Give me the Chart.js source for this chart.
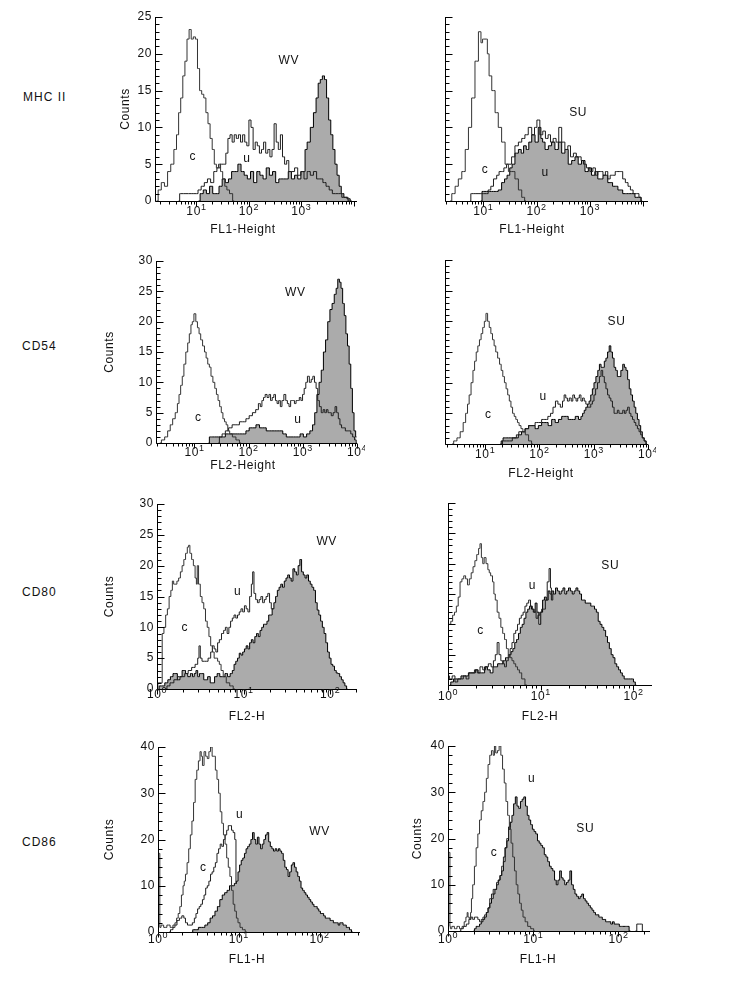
<!DOCTYPE html>
<html>
<head>
<meta charset="utf-8">
<script src="https://cdn.jsdelivr.net/npm/chart.js"></script>
<style>
    body { margin: 0; background: #fff; width: 736px; height: 981px; position: relative; overflow: hidden; font-family: "Liberation Sans", Arial, sans-serif; }
    canvas { position: absolute; }
    .row { position: absolute; font-size: 12px; line-height: 14px; letter-spacing: 1px; color: #111; }
</style>
</head>
<body>
<div class="row" style="left:23px;top:90px">MHC II</div>
<div class="row" style="left:22px;top:339px">CD54</div>
<div class="row" style="left:22px;top:585px">CD80</div>
<div class="row" style="left:22px;top:835px">CD86</div>
<script>
// points are [log10 channel, counts]; c = control, u = untreated, t = treated (shaded)

// MHC II, WV
var mhcWvC = [[0.24,0],[0.3,1.5],[0.36,2.5],[0.42,2],[0.48,4],[0.54,5],[0.6,7],[0.64,9],[0.68,12],[0.72,14],[0.76,17],[0.8,19],[0.84,22],[0.88,23.3],[0.92,22],[0.96,22.3],[1.0,22],[1.04,18],[1.08,15],[1.12,14.5],[1.16,14],[1.2,12],[1.24,10.5],[1.28,8.5],[1.32,7],[1.36,5],[1.4,4.5],[1.44,5],[1.48,4],[1.52,3],[1.56,2],[1.6,1.5],[1.66,1],[1.72,0]];
var mhcWvU = [[0.66,0],[0.7,1],[0.8,1],[0.9,1],[1.0,1],[1.06,1.5],[1.12,2],[1.18,2.5],[1.24,3],[1.3,2.5],[1.36,4],[1.42,4.5],[1.48,5],[1.54,5],[1.58,6.5],[1.62,8.5],[1.66,9],[1.7,8],[1.74,9],[1.78,8.5],[1.82,9],[1.86,8],[1.9,9],[1.94,8],[1.98,7.5],[2.02,11],[2.06,10],[2.1,7],[2.14,8],[2.18,7.5],[2.22,6.5],[2.26,7],[2.3,8],[2.34,6.5],[2.38,7],[2.42,6],[2.46,7],[2.5,10.5],[2.54,8],[2.58,7],[2.62,9],[2.66,6],[2.7,5],[2.74,5.5],[2.78,4],[2.84,4],[2.9,4.5],[2.96,3.5],[3.02,4],[3.08,3],[3.14,4],[3.2,3.5],[3.26,4],[3.32,3],[3.38,3],[3.44,2.5],[3.5,2],[3.56,1.5],[3.62,1],[3.68,1],[3.74,1],[3.8,0.5],[3.86,0.5],[3.92,0]];
var mhcWvT = [[1.04,0],[1.1,1],[1.16,1.5],[1.22,1],[1.28,2],[1.34,1],[1.4,1],[1.46,2],[1.52,3],[1.58,2.5],[1.64,3],[1.7,4],[1.76,4],[1.82,5],[1.88,4],[1.94,3.5],[2.0,3],[2.06,4],[2.12,2.5],[2.18,4],[2.24,3.5],[2.3,3],[2.36,4.5],[2.42,3.5],[2.48,4],[2.54,2.5],[2.6,3],[2.66,3],[2.72,3],[2.78,4],[2.84,3],[2.9,3.5],[2.96,3],[3.02,4],[3.06,4],[3.08,7],[3.14,8],[3.2,10],[3.26,12],[3.3,14],[3.34,16],[3.38,16.5],[3.42,17],[3.46,16.5],[3.5,14],[3.54,11],[3.58,9],[3.62,7],[3.66,5],[3.7,3.5],[3.74,2],[3.78,1],[3.84,0.5],[3.9,0.3],[3.96,0]];

// MHC II, SU
var mhcSuC = [[0.375,0],[0.44,1],[0.5,2],[0.56,3],[0.63,4],[0.69,7],[0.75,10],[0.81,14],[0.875,19],[0.94,23],[0.97,21.5],[1.0,22],[1.06,22],[1.09,20],[1.125,17],[1.19,15],[1.25,12],[1.31,10],[1.375,8],[1.44,5],[1.5,4],[1.56,4],[1.625,3],[1.69,1.5],[1.75,0.5],[1.8,0]];
var mhcSuU = [[0.75,0],[0.78,1],[0.86,1],[0.94,1],[1.0,1],[1.06,1],[1.12,1.5],[1.16,2],[1.22,3],[1.28,3.5],[1.31,4],[1.36,4],[1.41,4.5],[1.46,5],[1.5,5],[1.56,6],[1.625,7.5],[1.69,8],[1.75,8.5],[1.81,9],[1.875,10],[1.94,9],[1.98,10],[2.03,11],[2.09,9],[2.14,9.5],[2.19,8.5],[2.24,9],[2.28,8],[2.34,8.5],[2.39,8],[2.44,10],[2.5,8],[2.56,7],[2.61,7.5],[2.66,6],[2.72,6.5],[2.77,6],[2.81,6],[2.86,5.5],[2.9,5],[2.97,4.5],[3.03,4],[3.08,4.5],[3.125,3.5],[3.17,4],[3.22,4],[3.27,3.5],[3.31,4],[3.36,3],[3.4,3.5],[3.45,3.5],[3.5,4],[3.55,4],[3.59,4],[3.64,3],[3.69,2.5],[3.74,2],[3.78,1.5],[3.84,1],[3.9,1],[3.94,0.5],[3.98,0]];
var mhcSuT = [[0.95,0],[1.0,1.3],[1.06,1.3],[1.12,1.3],[1.19,1.3],[1.25,1.3],[1.31,1.5],[1.375,2.5],[1.42,3],[1.47,3.5],[1.52,4.5],[1.56,5],[1.625,6.5],[1.69,7],[1.73,6.5],[1.78,7.5],[1.83,7],[1.875,8],[1.94,9],[2.0,8],[2.06,10],[2.1,8.5],[2.125,8],[2.19,7],[2.25,7.5],[2.31,8],[2.375,7],[2.44,8],[2.5,6.5],[2.56,7],[2.625,5],[2.69,5.5],[2.75,6],[2.81,5],[2.875,5.5],[2.94,4],[3.0,4.5],[3.06,3.5],[3.125,4],[3.17,3],[3.22,3],[3.27,3.5],[3.31,3.5],[3.36,2.5],[3.4,2.5],[3.45,2],[3.5,2],[3.55,1.5],[3.59,1.5],[3.64,1],[3.69,1],[3.75,1],[3.81,1],[3.88,0.5],[3.94,0.5],[3.98,0]];

// CD54, WV
var cd54WvC = [[0.36,0],[0.42,0.5],[0.48,1],[0.53,2],[0.575,3],[0.62,4],[0.67,5],[0.7,6.5],[0.73,8],[0.76,9.5],[0.79,11],[0.82,13],[0.86,15],[0.89,16.5],[0.92,18],[0.95,19.5],[0.97,20],[1.01,21.3],[1.04,20],[1.07,19],[1.1,18],[1.13,17],[1.17,16],[1.2,15],[1.23,14],[1.26,13],[1.29,12.5],[1.32,11],[1.36,10],[1.39,9],[1.42,8],[1.45,7],[1.48,6],[1.51,5],[1.54,4],[1.57,3.5],[1.6,3],[1.63,2],[1.67,1.5],[1.73,1],[1.8,0.5],[1.86,0]];
var cd54WvU = [[1.44,0],[1.48,1],[1.54,1.5],[1.6,2],[1.66,2.5],[1.73,3],[1.8,3],[1.86,3.5],[1.92,3.5],[1.98,4],[2.04,4.5],[2.1,5],[2.16,5.5],[2.2,6.5],[2.23,6],[2.26,7],[2.29,7.5],[2.32,8],[2.36,7.5],[2.39,8],[2.42,7],[2.45,7.5],[2.48,8],[2.51,7],[2.54,6.5],[2.57,7],[2.6,6],[2.63,7],[2.67,8],[2.7,7],[2.73,6.5],[2.76,6],[2.79,7],[2.83,7],[2.86,6.5],[2.89,7],[2.92,7],[2.95,7.5],[2.98,7],[3.01,8],[3.04,9],[3.07,10],[3.1,11],[3.14,10],[3.17,10.5],[3.2,11],[3.23,10],[3.26,9],[3.29,7],[3.32,6],[3.36,5],[3.39,5.5],[3.42,5],[3.45,5.5],[3.48,5],[3.51,5],[3.54,4.5],[3.58,5],[3.61,6],[3.64,5],[3.67,4],[3.7,3],[3.73,2.5],[3.77,2.5],[3.8,2],[3.84,2],[3.87,2],[3.9,1.5],[3.94,1],[3.97,0.5],[4.0,0]];
var cd54WvT = [[1.26,0],[1.29,1],[1.34,1],[1.4,1],[1.48,1],[1.54,1],[1.6,1.5],[1.66,1.5],[1.73,1.5],[1.8,1.5],[1.86,1.5],[1.92,1.5],[1.98,2],[2.04,2.5],[2.1,2.5],[2.17,3],[2.23,2.5],[2.29,2.5],[2.36,2],[2.42,2],[2.48,2],[2.54,2],[2.6,2],[2.66,1.5],[2.73,1],[2.8,1],[2.86,1],[2.92,1],[2.98,1.5],[3.04,1],[3.1,1.5],[3.16,2],[3.2,3],[3.24,5],[3.28,8],[3.32,10],[3.36,12],[3.4,15],[3.44,17],[3.48,20],[3.52,22],[3.56,23],[3.6,24.5],[3.63,25.5],[3.66,27],[3.69,26.5],[3.72,25.5],[3.75,23],[3.78,21],[3.81,18],[3.84,16],[3.87,13],[3.9,9],[3.93,5],[3.96,2],[3.99,1]];

// CD54, SU
var cd54SuC = [[0.39,0],[0.45,0.5],[0.51,1],[0.57,2],[0.62,3.5],[0.66,5],[0.69,6.5],[0.72,8],[0.76,10],[0.79,12],[0.82,13.5],[0.85,15],[0.88,16],[0.91,17],[0.94,18],[0.97,19],[1.0,20],[1.03,21.3],[1.06,20],[1.09,19],[1.12,18],[1.15,17],[1.18,16],[1.21,15],[1.25,14],[1.28,13],[1.31,12],[1.34,11],[1.37,10],[1.4,9],[1.43,8],[1.46,7],[1.49,6],[1.52,5],[1.55,4.5],[1.58,4],[1.61,3.5],[1.64,3],[1.68,2.5],[1.71,2],[1.77,1.5],[1.83,0.5],[1.88,0]];
var cd54SuU = [[1.3,0],[1.34,0.5],[1.45,0.5],[1.55,1],[1.6,1.5],[1.64,2],[1.7,2],[1.77,2.5],[1.83,3],[1.89,3],[1.95,3.5],[2.01,3.5],[2.07,4],[2.13,4],[2.18,4.5],[2.23,5],[2.27,6],[2.32,7],[2.36,6.5],[2.41,6],[2.44,7],[2.47,8],[2.5,7.5],[2.53,7],[2.57,7.5],[2.6,7],[2.63,8],[2.66,7.5],[2.69,7],[2.72,7.5],[2.75,8],[2.78,7],[2.81,7.5],[2.84,7],[2.87,6.5],[2.9,6],[2.93,6],[2.96,6.5],[2.99,7],[3.02,8],[3.05,9],[3.09,10],[3.12,11],[3.15,12],[3.18,11],[3.21,10],[3.24,9],[3.27,8],[3.3,7.5],[3.33,7],[3.36,6],[3.39,5],[3.42,5],[3.45,5.5],[3.48,5],[3.52,5],[3.55,5.5],[3.58,5],[3.61,5.5],[3.64,6],[3.67,5],[3.7,4.5],[3.73,4],[3.76,3.5],[3.79,3],[3.82,2.5],[3.85,2],[3.88,1.5],[3.91,1],[3.95,0.5],[3.98,0]];
var cd54SuT = [[1.28,0],[1.31,0.5],[1.35,1],[1.4,1],[1.46,1],[1.52,1],[1.58,1],[1.64,1.5],[1.7,2],[1.77,2.5],[1.83,3],[1.89,3],[1.95,2.5],[2.01,3],[2.07,3.5],[2.13,3.5],[2.19,3],[2.26,4],[2.32,3.5],[2.38,4],[2.44,4.5],[2.5,4.5],[2.56,4],[2.63,4],[2.69,4.5],[2.75,4],[2.78,4.5],[2.81,5],[2.84,5.5],[2.87,6],[2.9,6.5],[2.93,7],[2.96,8],[2.99,9],[3.02,10],[3.06,11],[3.09,12],[3.12,13],[3.15,12.5],[3.18,12.5],[3.21,13.5],[3.24,14],[3.27,15],[3.3,16],[3.33,15],[3.36,14],[3.39,12.5],[3.42,12],[3.45,11],[3.48,11],[3.52,12],[3.55,13],[3.58,12.5],[3.61,12],[3.64,10.5],[3.67,9],[3.7,8],[3.73,7],[3.76,6],[3.79,5],[3.82,4],[3.85,3],[3.88,2],[3.91,1],[3.95,0.5],[3.98,0]];

// CD80, WV
var cd80WvC = [[0,0],[0.02,1],[0.05,1],[0.07,9],[0.09,10],[0.11,12],[0.13,13],[0.15,15],[0.17,16],[0.185,17.5],[0.2,17],[0.22,17],[0.24,17.5],[0.26,18],[0.28,19],[0.3,20],[0.32,21],[0.34,22],[0.36,23],[0.37,23.3],[0.39,22],[0.41,21],[0.43,20],[0.45,18],[0.46,17],[0.47,20],[0.49,17],[0.51,15],[0.53,14],[0.55,13],[0.57,11],[0.59,10],[0.61,8.5],[0.63,7],[0.65,6],[0.67,5],[0.69,5],[0.71,4.5],[0.73,4],[0.75,3],[0.78,2],[0.82,1],[0.86,0.5],[0.9,0]];
var cd80WvU = [[0.1,0],[0.13,0.5],[0.17,1],[0.22,1.5],[0.26,2],[0.3,2],[0.34,2.5],[0.38,3],[0.42,3.5],[0.46,4],[0.48,5],[0.49,7],[0.51,5],[0.53,4.5],[0.57,4.5],[0.61,5],[0.63,6],[0.65,7],[0.67,6.5],[0.69,6],[0.71,7.5],[0.73,8],[0.76,9],[0.78,9.5],[0.8,10],[0.82,9],[0.84,10],[0.86,11],[0.88,11.5],[0.9,12],[0.92,11.5],[0.94,12],[0.96,12.5],[0.98,13],[1.0,12.5],[1.02,13.5],[1.04,13],[1.06,12.5],[1.08,15],[1.1,17],[1.11,19],[1.13,15.5],[1.15,14.5],[1.17,14],[1.19,14.5],[1.21,15],[1.23,14],[1.25,14.5],[1.27,15],[1.29,15.5],[1.31,14],[1.33,13],[1.34,13]];
var cd80WvT = [[0.02,0],[0.03,0.5],[0.07,0.5],[0.11,1],[0.14,1.5],[0.17,2],[0.2,2.5],[0.22,2.5],[0.25,1.5],[0.28,2],[0.3,3],[0.32,3],[0.34,2.5],[0.37,2],[0.4,2.5],[0.42,2],[0.44,2.5],[0.46,3],[0.48,2],[0.5,2.5],[0.53,2.5],[0.55,1.5],[0.57,1.5],[0.6,2],[0.63,1],[0.65,1],[0.68,2],[0.71,2.5],[0.74,2],[0.77,2],[0.8,2.5],[0.83,2],[0.86,2.5],[0.88,3],[0.9,4],[0.92,4.5],[0.94,5],[0.96,5.8],[0.98,5.5],[1.0,6],[1.02,6.5],[1.04,7],[1.06,6.5],[1.08,7.5],[1.1,8],[1.12,7.5],[1.14,8.5],[1.16,9],[1.18,8.5],[1.2,9.5],[1.22,10],[1.24,10.5],[1.26,10.5],[1.28,11],[1.3,12],[1.32,12],[1.34,13],[1.36,14],[1.38,15],[1.4,16],[1.42,16.5],[1.44,17],[1.46,16.5],[1.48,17.5],[1.5,18],[1.52,18.5],[1.54,18],[1.56,17.5],[1.58,19.5],[1.6,19],[1.62,18.5],[1.64,20],[1.66,21],[1.68,19],[1.7,18.5],[1.72,18],[1.74,18.5],[1.76,17.5],[1.78,17],[1.8,16.5],[1.82,16],[1.84,14],[1.86,12.8],[1.88,12],[1.9,11],[1.92,10],[1.94,9],[1.96,7.5],[1.98,6],[2.0,5],[2.02,4],[2.04,3.7],[2.06,3],[2.08,2.6],[2.1,2.5],[2.12,2],[2.14,1.5],[2.16,1],[2.18,0.5],[2.2,0]];

// CD80, SU
var cd80SuC = [[0,0],[0,10],[0.02,10],[0.04,10.5],[0.06,11.5],[0.08,12],[0.1,13],[0.12,14.5],[0.14,17],[0.16,17.5],[0.18,18],[0.2,17.5],[0.22,16.5],[0.24,17.5],[0.26,18.5],[0.28,19.5],[0.3,20.5],[0.32,21.5],[0.34,22.5],[0.35,23.3],[0.37,21],[0.38,20],[0.4,21],[0.42,20],[0.44,19],[0.45,18.5],[0.47,18],[0.49,17],[0.5,15],[0.52,14],[0.54,12],[0.56,11],[0.58,9.5],[0.6,8.5],[0.62,7.5],[0.64,6],[0.66,5],[0.68,4.5],[0.7,4],[0.72,3.5],[0.74,3],[0.76,2.5],[0.78,2],[0.81,1],[0.85,0]];
var cd80SuU = [[0,1.5],[0.03,1],[0.06,1.5],[0.09,0.5],[0.12,1],[0.15,1],[0.18,1.5],[0.21,1],[0.24,2],[0.27,2],[0.3,2.5],[0.33,2],[0.36,3],[0.39,2.5],[0.42,3],[0.45,3.5],[0.48,3],[0.5,4],[0.52,5],[0.54,7],[0.56,5],[0.58,4],[0.6,3.5],[0.62,3],[0.64,4],[0.66,5],[0.68,6],[0.7,7],[0.72,8.5],[0.74,9],[0.76,10],[0.78,11],[0.8,11.5],[0.82,12],[0.84,13],[0.86,13.5],[0.88,14],[0.9,13],[0.92,12.5],[0.94,12],[0.96,11],[0.98,11.5],[1.0,12],[1.02,12.5],[1.04,12.5],[1.06,14],[1.08,17],[1.1,19.2],[1.11,16],[1.12,14],[1.14,15]];
var cd80SuT = [[0.02,0],[0.04,0.5],[0.08,1],[0.12,1],[0.16,1.5],[0.2,1.5],[0.24,2],[0.28,2],[0.31,2.5],[0.34,2],[0.38,2],[0.41,3],[0.44,2.5],[0.47,2],[0.5,3],[0.52,3],[0.55,3.5],[0.58,3.5],[0.61,4],[0.63,4.5],[0.65,4.5],[0.67,5],[0.69,5.5],[0.71,6],[0.73,7],[0.75,7.5],[0.77,8.5],[0.79,9.5],[0.81,10],[0.83,11],[0.85,12],[0.87,12.5],[0.89,13],[0.91,12.5],[0.93,12],[0.95,13.5],[0.97,12],[0.99,10],[1.01,12],[1.03,14],[1.05,14.5],[1.07,14],[1.09,15.5],[1.11,15],[1.13,15.5],[1.15,15],[1.17,16],[1.19,15.5],[1.21,15],[1.23,15.5],[1.25,16],[1.27,15],[1.29,15.5],[1.31,16],[1.33,15.5],[1.35,15],[1.37,15.5],[1.39,16],[1.41,15.5],[1.43,15],[1.45,14],[1.47,14],[1.49,13.5],[1.51,13.5],[1.53,13.5],[1.55,13],[1.57,13],[1.59,12.5],[1.61,12],[1.63,10.5],[1.65,10],[1.67,9.5],[1.69,9],[1.71,8],[1.73,7],[1.75,6],[1.77,5],[1.79,4.5],[1.81,3.5],[1.83,3],[1.85,2.5],[1.87,2],[1.89,1.5],[1.91,1],[1.95,1],[1.99,1],[2.01,0.5],[2.03,0]];

// CD86, WV
var cd86WvC = [[0,0],[0,17],[0.02,17],[0.025,1],[0.05,1.5],[0.09,1],[0.13,1.5],[0.17,1],[0.2,1.5],[0.22,2],[0.24,3],[0.26,4],[0.28,5.5],[0.3,8],[0.32,10],[0.33,11],[0.35,12.5],[0.37,15],[0.39,18],[0.41,21],[0.43,24],[0.45,28],[0.47,33],[0.49,35],[0.51,37],[0.53,39],[0.54,38],[0.56,36],[0.58,39],[0.6,38],[0.62,37.5],[0.64,39],[0.66,40],[0.68,38],[0.7,38],[0.72,35],[0.74,33],[0.76,30],[0.78,26],[0.8,23.5],[0.82,21],[0.84,19],[0.86,16],[0.88,14],[0.9,12],[0.92,9],[0.94,6],[0.96,4.5],[0.98,3],[1.0,2],[1.03,1],[1.06,0.5],[1.1,0]];
var cd86WvU = [[0.14,0],[0.17,0.5],[0.2,1],[0.22,1.5],[0.25,2.5],[0.28,3],[0.31,3.5],[0.33,3],[0.35,2],[0.38,1.5],[0.41,1.5],[0.44,2],[0.46,3],[0.48,4],[0.5,5],[0.52,5.5],[0.54,6],[0.56,7],[0.58,8],[0.6,9.5],[0.62,10],[0.64,11],[0.66,12.5],[0.68,13],[0.7,14],[0.72,15],[0.74,17],[0.76,18],[0.78,19],[0.8,18.5],[0.82,20],[0.84,21],[0.86,22],[0.88,23],[0.9,23],[0.92,22],[0.94,21.5],[0.96,20],[0.97,10.5]];
var cd86WvT = [[0.42,0],[0.44,0.5],[0.48,0.5],[0.52,1],[0.56,1],[0.6,1.5],[0.63,2],[0.66,3],[0.69,3.5],[0.72,4.5],[0.75,5.5],[0.78,7],[0.81,8],[0.84,8.5],[0.87,9],[0.9,10],[0.93,10],[0.96,10.5],[0.98,11],[1.0,13],[1.02,14.5],[1.04,15.5],[1.06,16],[1.08,17],[1.1,18],[1.12,18.5],[1.14,19],[1.16,20],[1.18,21.5],[1.2,20],[1.22,19],[1.24,20.5],[1.26,19],[1.28,18],[1.3,19],[1.32,20],[1.34,21],[1.36,21.5],[1.38,19.5],[1.4,18.5],[1.42,18],[1.44,17.5],[1.46,18],[1.48,17.5],[1.5,18],[1.52,17.5],[1.54,17],[1.56,15.5],[1.58,14],[1.6,13.5],[1.62,12],[1.64,13],[1.66,14.5],[1.68,15],[1.7,14],[1.72,13],[1.74,12],[1.76,11],[1.78,9.5],[1.8,9],[1.82,8.5],[1.84,8],[1.86,7.5],[1.88,7],[1.9,6.5],[1.92,6],[1.94,5.5],[1.96,5.5],[1.98,5],[2.0,4.5],[2.02,4],[2.04,4],[2.06,3.5],[2.08,3],[2.1,3],[2.12,3],[2.14,2.5],[2.16,2.5],[2.18,2],[2.2,2],[2.22,2],[2.24,1.5],[2.26,2],[2.28,2],[2.3,1.5],[2.32,1.5],[2.34,1],[2.36,1],[2.38,0.5],[2.41,0]];

// CD86, SU
var cd86SuC = [[0,0],[0,17],[0.02,17],[0.025,1],[0.03,0.5],[0.06,1],[0.09,0.5],[0.12,1],[0.15,0.5],[0.18,1],[0.2,2],[0.22,3],[0.23,4],[0.24,3],[0.26,2.5],[0.27,4],[0.28,7],[0.3,10],[0.32,14],[0.34,18],[0.36,21],[0.38,24],[0.4,26],[0.42,28],[0.44,30],[0.46,33],[0.48,36],[0.5,38],[0.52,39],[0.54,38],[0.55,40],[0.57,38.5],[0.59,39],[0.61,40],[0.63,38],[0.65,35],[0.67,32],[0.69,28],[0.71,25],[0.73,22],[0.75,19],[0.77,16],[0.79,13],[0.81,10],[0.83,8],[0.85,6],[0.87,4.5],[0.89,3],[0.92,2],[0.95,1],[0.99,0.5],[1.02,0]];
var cd86SuU = [[0.14,0],[0.16,0.5],[0.2,1],[0.23,1.5],[0.26,2.5],[0.28,3],[0.3,2.5],[0.32,3],[0.34,3],[0.36,2.5],[0.38,2],[0.4,2.5],[0.42,3],[0.44,3.5],[0.46,4],[0.48,5],[0.5,7],[0.52,8],[0.54,9],[0.56,9],[0.58,10.5],[0.6,11],[0.62,12],[0.64,14],[0.66,16],[0.68,18],[0.7,20],[0.72,22.5],[0.74,23.5],[1.5,null],[2.2,0],[2.23,1.5],[2.27,1.5],[2.29,0]];
var cd86SuT = [[0.3,0],[0.32,0.5],[0.34,1],[0.36,1],[0.38,1.5],[0.4,2],[0.42,2.5],[0.44,3],[0.46,4],[0.48,5],[0.5,6],[0.52,7],[0.54,8],[0.56,9],[0.58,10],[0.6,11],[0.62,12],[0.64,13],[0.66,15],[0.68,18],[0.7,19.5],[0.72,22],[0.74,23.5],[0.76,25],[0.78,27.5],[0.8,29],[0.82,27],[0.84,26.5],[0.86,28],[0.88,28.5],[0.9,29],[0.92,27],[0.94,25],[0.96,24],[0.98,23],[1.0,22],[1.02,21.5],[1.04,21],[1.06,19.5],[1.08,19],[1.1,18.5],[1.12,18],[1.14,16.5],[1.16,16],[1.18,15],[1.2,14],[1.22,13.5],[1.24,13],[1.26,11],[1.28,10],[1.3,11],[1.32,13],[1.34,11.5],[1.36,11],[1.38,10],[1.4,10.5],[1.42,11],[1.44,13],[1.46,10],[1.48,9],[1.5,8],[1.52,7.5],[1.54,7],[1.56,7.5],[1.58,8],[1.6,7],[1.62,6.5],[1.64,6],[1.66,5.5],[1.68,5],[1.7,4.5],[1.72,4],[1.74,3.5],[1.76,3.5],[1.78,3],[1.8,3],[1.82,2.5],[1.84,2.5],[1.86,2],[1.88,2],[1.9,2],[1.92,1.5],[1.94,2],[1.96,1.5],[1.98,1.5],[2.0,1.5],[2.02,1],[2.05,1],[2.08,1],[2.11,1],[2.14,0]];

// layout of the eight panels (page pixels: left, top, right, bottom of the plot area)
var panels = [
    {sets: [mhcWvT, mhcWvU, mhcWvC], box: [155, 17, 357, 201], xMin: 0.21, xMax: 4.06, lastDecade: 3, yMax: 25, yMinor: 1, yMajor: 5, yLabels: true, countsX: 126, xTitle: 'FL1-Height', titleAt: [243, 230], tickOff: 11, notes: [['WV', 2.76, 19], ['c', 0.93, 6], ['u', 1.96, 5.8]]},
    {sets: [mhcSuT, mhcSuU, mhcSuC], box: [445, 17, 648, 201], xMin: 0.28, xMax: 4.09, lastDecade: 3, yMax: 25, yMinor: 1, yMajor: 5, yLabels: false, countsX: 0, xTitle: 'FL1-Height', titleAt: [532, 230], tickOff: 11, notes: [['SU', 2.78, 12], ['c', 1.03, 4.2], ['u', 2.16, 3.8]]},
    {sets: [cd54WvT, cd54WvU, cd54WvC], box: [156, 261, 357, 443], xMin: 0.29, xMax: 4.0, lastDecade: 4, yMax: 30, yMinor: 1, yMajor: 5, yLabels: true, countsX: 110, xTitle: 'FL2-Height', titleAt: [243, 466], tickOff: 10, notes: [['WV', 2.86, 24.8], ['c', 1.07, 4.1], ['u', 2.91, 3.8]]},
    {sets: [cd54SuT, cd54SuU, cd54SuC], box: [445, 260, 648, 444], xMin: 0.26, xMax: 4.0, lastDecade: 4, yMax: 30, yMinor: 1, yMajor: 5, yLabels: false, countsX: 0, xTitle: 'FL2-Height', titleAt: [541, 474], tickOff: 11, notes: [['SU', 3.42, 20], ['c', 1.06, 4.7], ['u', 2.07, 7.7]]},
    {sets: [cd80WvT, cd80WvU, cd80WvC], box: [157, 504, 357, 689], xMin: 0, xMax: 2.31, lastDecade: 2, yMax: 30, yMinor: 1, yMajor: 5, yLabels: true, countsX: 110, xTitle: 'FL2-H', titleAt: [247, 717], tickOff: 6, notes: [['WV', 1.96, 23.9], ['c', 0.32, 10], ['u', 0.93, 15.8]]},
    {sets: [cd80SuT, cd80SuU, cd80SuC], box: [448, 503, 652, 685], xMin: 0, xMax: 2.2, lastDecade: 2, yMax: 30, yMinor: 1, yMajor: 5, yLabels: false, countsX: 0, xTitle: 'FL2-H', titleAt: [540, 717], tickOff: 12, notes: [['SU', 1.75, 19.7], ['c', 0.35, 9], ['u', 0.91, 16.3]]},
    {sets: [cd86WvT, cd86WvU, cd86WvC], box: [158, 747, 360, 932], xMin: 0, xMax: 2.5, lastDecade: 2, yMax: 40, yMinor: 2, yMajor: 10, yLabels: true, countsX: 110, xTitle: 'FL1-H', titleAt: [247, 960], tickOff: 8, notes: [['WV', 2.0, 21.6], ['c', 0.56, 13.8], ['u', 1.01, 25.3]]},
    {sets: [cd86SuT, cd86SuU, cd86SuC], box: [448, 746, 650, 931], xMin: 0, xMax: 2.37, lastDecade: 2, yMax: 40, yMinor: 2, yMajor: 10, yLabels: true, countsX: 418, xTitle: 'FL1-H', titleAt: [538, 960], tickOff: 9, notes: [['SU', 1.61, 22.2], ['c', 0.54, 16.9], ['u', 0.98, 33]]}
];

var AXIS_W = 60, AXIS_H = 40, PAD = 8;
var FONT = '"Liberation Sans", Arial, sans-serif';

function toPoints(arr) {
    return arr.map(function (d) {
        return {x: Math.pow(10, d[0]), y: d[1]};
    });
}

function decor(p, left, top) {
    return {
        id: 'decor',
        afterDraw: function (chart) {
            var ctx = chart.ctx, a = chart.chartArea, xs = chart.scales.x, ys = chart.scales.y;
            var x0 = Math.round(a.left) + 0.5, y0 = Math.round(a.bottom) + 0.5;
            var v, x, y, d, k;
            ctx.save();
            ctx.strokeStyle = '#000';
            ctx.lineWidth = 1;
            ctx.beginPath();
            ctx.moveTo(x0, Math.round(a.top));
            ctx.lineTo(x0, y0);
            ctx.lineTo(Math.round(a.right), y0);
            // y ticks point into the plot
            for (v = 0; v <= p.yMax; v += p.yMinor) {
                y = Math.round(ys.getPixelForValue(v)) + 0.5;
                ctx.moveTo(x0, y);
                ctx.lineTo(x0 + (v % p.yMajor === 0 ? 7 : 4), y);
            }
            // log ticks under the axis
            for (d = Math.floor(p.xMin); d <= Math.ceil(p.xMax); d++) {
                for (k = 1; k < 10; k++) {
                    v = k * Math.pow(10, d);
                    if (v < xs.min * 0.999 || v > xs.max * 1.001) continue;
                    x = Math.round(xs.getPixelForValue(v)) + 0.5;
                    ctx.moveTo(x, y0);
                    ctx.lineTo(x, y0 + (k === 1 ? 5 : 3));
                }
            }
            ctx.stroke();

            ctx.fillStyle = '#111';
            ctx.letterSpacing = '0.6px';
            ctx.textBaseline = 'middle';
            ctx.font = '12px ' + FONT;
            if (p.yLabels) {
                ctx.textAlign = 'right';
                for (v = 0; v <= p.yMax; v += p.yMajor) {
                    ctx.fillText(String(v), a.left - 3, ys.getPixelForValue(v));
                }
            }
            // decade labels 10^n
            ctx.textAlign = 'left';
            for (d = Math.ceil(p.xMin - 0.001); d <= p.lastDecade; d++) {
                x = xs.getPixelForValue(Math.pow(10, d));
                ctx.font = '12px ' + FONT;
                var w1 = ctx.measureText('10').width;
                ctx.font = '9px ' + FONT;
                var w2 = ctx.measureText(String(d)).width;
                var sx = x - (w1 + w2) / 2;
                ctx.font = '12px ' + FONT;
                ctx.fillText('10', sx, a.bottom + p.tickOff);
                ctx.font = '9px ' + FONT;
                ctx.fillText(String(d), sx + w1, a.bottom + p.tickOff - 4);
            }
            ctx.font = '12px ' + FONT;
            ctx.textAlign = 'center';
            ctx.fillText(p.xTitle, p.titleAt[0] - left, p.titleAt[1] - top);
            if (p.countsX) {
                ctx.save();
                ctx.translate(p.countsX - left, (a.top + a.bottom) / 2);
                ctx.rotate(-Math.PI / 2);
                ctx.fillText('Counts', 0, 0);
                ctx.restore();
            }
            p.notes.forEach(function (n) {
                ctx.fillText(n[0], xs.getPixelForValue(Math.pow(10, n[1])), ys.getPixelForValue(n[2]));
            });
            ctx.restore();
        }
    };
}

panels.forEach(function (p) {
    var left = p.box[0] - AXIS_W, top = p.box[1] - PAD;
    var canvas = document.createElement('canvas');
    canvas.width = p.box[2] - p.box[0] + AXIS_W + PAD;
    canvas.height = p.box[3] - p.box[1] + PAD + AXIS_H;
    canvas.style.left = left + 'px';
    canvas.style.top = top + 'px';
    document.body.appendChild(canvas);

    new Chart(canvas, {
        type: 'line',
        data: {
            datasets: [
                {data: toPoints(p.sets[0]), stepped: 'middle', fill: 'origin', backgroundColor: '#ababab', borderColor: '#000', borderWidth: 1, order: 3},
                {data: toPoints(p.sets[1]), stepped: 'middle', fill: false, borderColor: '#1e1e1e', borderWidth: 1, order: 2},
                {data: toPoints(p.sets[2]), stepped: 'middle', fill: false, borderColor: '#333', borderWidth: 1, order: 1}
            ]
        },
        options: {
            responsive: false,
            animation: false,
            events: [],
            layout: {padding: {left: 0, top: PAD, right: PAD, bottom: 0}},
            elements: {point: {radius: 0}},
            plugins: {legend: {display: false}, tooltip: {enabled: false}},
            scales: {
                x: {
                    type: 'logarithmic',
                    min: Math.pow(10, p.xMin),
                    max: Math.pow(10, p.xMax),
                    grid: {display: false},
                    border: {display: false},
                    ticks: {display: false},
                    afterFit: function (s) { s.height = AXIS_H; }
                },
                y: {
                    type: 'linear',
                    min: 0,
                    max: p.yMax,
                    grid: {display: false},
                    border: {display: false},
                    ticks: {display: false},
                    afterFit: function (s) { s.width = AXIS_W; }
                }
            }
        },
        plugins: [decor(p, left, top)]
    });
});
</script>
</body>
</html>
